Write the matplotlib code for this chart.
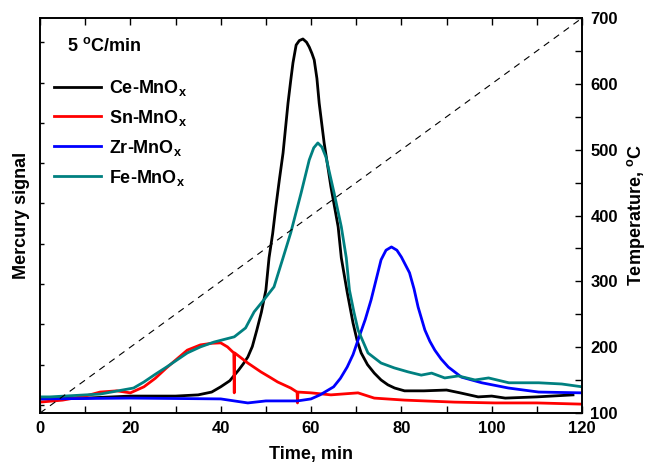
import numpy as np
import matplotlib.pyplot as plt
from matplotlib.ticker import MultipleLocator

plt.rcParams['font.family'] = ['Liberation Sans', 'DejaVu Sans']
plt.rcParams['font.weight'] = 'bold'
plt.rcParams['mathtext.fontset'] = 'custom'
plt.rcParams['mathtext.rm'] = 'Liberation Sans:bold'
plt.rcParams['mathtext.bf'] = 'Liberation Sans:bold'

# Ce-MnOx
ce_t = [0, 10, 20, 30, 35, 38, 40, 42, 44, 45, 46, 47, 48, 49, 50, 50.7, 51.5, 52.2, 53,
        53.8, 54.9, 55.5, 56, 56.7, 57.4, 58.2, 59, 59.6, 60.2, 60.7, 61.3, 61.8, 62.9,
        64.4, 66, 66.7, 68, 69.3, 70.2, 71.1, 72.5, 74, 75.5, 77, 78.5, 80.7, 85, 90,
        93, 97, 100, 103, 110, 118]
ce_v = [0.15, 0.17, 0.22, 0.22, 0.25, 0.32, 0.45, 0.6, 0.87, 1.02, 1.19, 1.45, 1.86, 2.3,
        2.85, 3.65, 4.25, 4.91, 5.6, 6.25, 7.49, 8.05, 8.49, 8.93, 9.04, 9.08, 9.0, 8.88,
        8.72, 8.56, 8.1, 7.49, 6.5, 5.41, 4.42, 3.65, 2.8, 2.03, 1.6, 1.29, 1.0, 0.79,
        0.62, 0.5, 0.42, 0.35, 0.35, 0.37, 0.3, 0.2, 0.22, 0.17, 0.2, 0.25]

# Sn-MnOx
sn_t = [0, 5, 10, 13.3, 17, 20, 23, 25.5, 28, 30.5, 32.6, 35.5, 38, 40, 41.5, 42.9, 43.0,
        43.1, 46, 48.9, 51, 52.6, 55.5, 56.9, 57.0, 57.1, 60, 64.4, 70.4, 74, 80.7, 91.8,
        100.7, 110, 120]
sn_v = [0.07, 0.12, 0.22, 0.32, 0.35, 0.3, 0.45, 0.66, 0.92, 1.16, 1.36, 1.49, 1.53, 1.54,
        1.44, 1.29, 0.3, 1.29, 1.04, 0.82, 0.68, 0.57, 0.42, 0.32, 0.05, 0.32, 0.3, 0.25,
        0.3, 0.17, 0.12, 0.07, 0.05, 0.05, 0.02]

# Zr-MnOx
zr_t = [0, 20, 40, 46, 50, 57, 60, 62, 65, 66.5, 68, 69.3, 70.4, 72, 73.3, 74.5, 75.5,
        76.6, 77.8, 79, 80, 81.8, 82.8, 83.7, 85.2, 86.3, 87.4, 88.8, 90.4, 93.3, 97.8,
        103.7, 110.4, 120]
zr_v = [0.15, 0.17, 0.15, 0.05, 0.1, 0.1, 0.15, 0.25, 0.45, 0.66, 0.94, 1.25, 1.61, 2.12,
        2.61, 3.15, 3.6, 3.84, 3.92, 3.84, 3.67, 3.28, 2.88, 2.43, 1.86, 1.58, 1.36, 1.14,
        0.94, 0.69, 0.55, 0.42, 0.32, 0.3]

# Fe-MnOx
fe_t = [0, 2.2, 13.3, 20.7, 23, 25.5, 28, 30.5, 32.6, 35.5, 38.5, 43, 45.5, 47.4, 49.5,
        51.8, 53.8, 55.5, 57.8, 59.6, 60.6, 61.5, 62.4, 63.3, 65.1, 66.7, 67.8, 68.5, 69.5,
        70.4, 72.6, 75.5, 78.4, 81.5, 84.4, 86.7, 89.6, 92.6, 96.3, 99.3, 103.8, 110.4,
        115.5, 120]
fe_v = [0.2, 0.2, 0.27, 0.42, 0.57, 0.76, 0.94, 1.13, 1.29, 1.44, 1.56, 1.69, 1.91, 2.31,
        2.6, 2.93, 3.65, 4.27, 5.26, 6.08, 6.38, 6.5, 6.4, 6.15, 5.26, 4.42, 3.65, 2.85,
        2.3, 1.86, 1.29, 1.04, 0.92, 0.82, 0.74, 0.79, 0.67, 0.72, 0.62, 0.67, 0.55, 0.55,
        0.52, 0.45]

# temperature ramp, 5 C/min
temp_t = [0, 120]
temp_v = [100, 700]

fig = plt.figure(figsize=(6.46, 4.68), dpi=100)
ax = fig.add_axes([0.062, 0.1175, 0.839, 0.844])
ax2 = ax.twinx()

lw = 2.0
ax.plot(ce_t, ce_v, color='black', lw=lw, label=r'Ce-MnO$_\mathrm{x}$')
ax.plot(sn_t, sn_v, color='#ff0000', lw=lw, label=r'Sn-MnO$_\mathrm{x}$')
ax.plot(zr_t, zr_v, color='#0000ff', lw=lw, label=r'Zr-MnO$_\mathrm{x}$')
ax.plot(fe_t, fe_v, color='#008080', lw=lw, label=r'Fe-MnO$_\mathrm{x}$')

ax2.plot(temp_t, temp_v, color='black', lw=0.8, linestyle=(0, (6, 5)))

ax.set_xlim(0, 120)
ax.set_ylim(-0.2, 9.6)
ax2.set_ylim(100, 700)

ax.xaxis.set_major_locator(MultipleLocator(20))
ax.xaxis.set_minor_locator(MultipleLocator(10))
ax.yaxis.set_major_locator(MultipleLocator(1))
ax.set_yticklabels([])
ax2.yaxis.set_major_locator(MultipleLocator(100))
ax2.yaxis.set_minor_locator(MultipleLocator(50))

ax.tick_params(axis='x', which='both', direction='in', top=True, length=5, width=1,
               labelsize=12, pad=6)
ax.tick_params(axis='y', which='both', direction='in', length=3, width=1, right=False)
ax2.tick_params(axis='y', which='both', direction='in', length=5, width=1, labelsize=12,
                pad=6)

for a in (ax, ax2):
    for s in a.spines.values():
        s.set_linewidth(1.2)

ax.set_xlabel('Time, min', fontsize=13, fontweight='bold')
ax.set_ylabel('Mercury signal', fontsize=13, fontweight='bold')
ax2.set_ylabel(r'Temperature, $^\mathrm{o}$C', fontsize=13, fontweight='bold')
ax.xaxis.set_label_coords(0.5, -0.083)
ax.yaxis.set_label_coords(-0.018, 0.5)
ax2.yaxis.set_label_coords(1.079, 0.5)

ax.text(0.05, 0.93, r'5 $^\mathrm{o}$C/min', transform=ax.transAxes, fontsize=13,
        fontweight='bold', va='center', ha='left')

leg = ax.legend(loc='upper left', bbox_to_anchor=(0.0, 0.885), frameon=False,
                fontsize=13, handlelength=2.6, handletextpad=0.4, labelspacing=0.55,
                borderaxespad=0.4)
for line in leg.get_lines():
    line.set_linewidth(2.0)

fig.savefig('out.png', dpi=100)
